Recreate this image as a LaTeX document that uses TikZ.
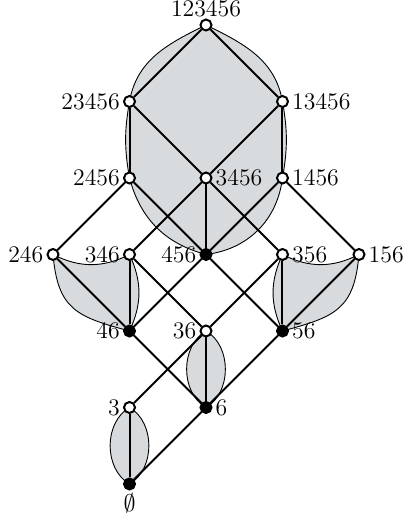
\documentclass[tikz,border=0pt]{standalone}
\usepackage{fontspec}
\usetikzlibrary{backgrounds}
\definecolor{blobgray}{RGB}{216,219,221}

\begin{document}
\begin{tikzpicture}[x=38.25pt, y=38.25pt,
    every node/.style={font=\fontsize{11.9}{14.2}\selectfont},
    opennode/.style={circle, draw, line width=1pt, fill=white, minimum size=5.5pt, inner sep=0pt},
    fullnode/.style={opennode, fill=black},
    cover/.style={line width=1pt},
    blob/.style={fill=blobgray, draw, line width=0.45pt},
    every label/.style={inner sep=1.4pt},
    label distance=0pt]
  \useasboundingbox (-0.693,-0.484) rectangle (4.614,6.327);

  % Top
  \node[opennode, label={[inner sep=0.4pt]above:123456}] (n123456) at (2,6) {};
  \node[opennode, label=left:23456] (n23456) at (1,5) {};
  \node[opennode, label=right:13456] (n13456) at (3,5) {};

  % Four elements
  \node[opennode, label=left:2456] (n2456) at (1,4) {};
  \node[opennode, label=right:3456] (n3456) at (2,4) {};
  \node[opennode, label=right:1456] (n1456) at (3,4) {};

  % Three elements
  \node[opennode, label=left:246] (n246) at (0,3) {};
  \node[opennode, label=left:346] (n346) at (1,3) {};
  \node[fullnode, label=left:456] (n456) at (2,3) {};
  \node[opennode, label=right:356] (n356) at (3,3) {};
  \node[opennode, label=right:156] (n156) at (4,3) {};

  % Two elements
  \node[fullnode, label=left:46] (n46) at (1,2) {};
  \node[opennode, label=left:36] (n36) at (2,2) {};
  \node[fullnode, label=right:56] (n56) at (3,2) {};

  % Bottom
  \node[opennode, label=left:3] (n3) at (1,1) {};
  \node[fullnode, label=right:6] (n6) at (2,1) {};
  \node[fullnode, label=below:$\emptyset$] (n0) at (1,0) {};

  \begin{scope}[on background layer]
    % Shaded blocks
    \draw[blob] (n123456.center) to[out=206,in=80] (n23456.center)
      to[out=-100,in=100] (n2456.center) to[bend right=30] (n456.center)
      to[bend right=38] (n1456.center) to[out=80,in=-80] (n13456.center)
      to[out=100,in=-26] (n123456.center) -- cycle;
    \draw[blob] (n246.center) to[bend right=27] (n346.center)
      to[bend left=25] (n46.center)
      to[out=165,in=-85,looseness=1.3] (n246.center) -- cycle;
    \draw[blob] (n356.center) to[bend right=27] (n156.center)
      to[out=-95,in=15,looseness=1.3] (n56.center)
      to[bend left=25] (n356.center) -- cycle;
    \draw[blob] (n36.center) to[bend right=60] (n6.center)
      to[bend right=60] (n36.center) -- cycle;
    \draw[blob] (n3.center) to[bend right=60] (n0.center)
      to[bend right=60] (n3.center) -- cycle;

    % Covering edges
    \draw[cover] (n123456) -- (n23456);
    \draw[cover] (n123456) -- (n13456);
    \draw[cover] (n23456) -- (n2456);
    \draw[cover] (n23456) -- (n3456);
    \draw[cover] (n13456) -- (n3456);
    \draw[cover] (n13456) -- (n1456);
    \draw[cover] (n2456) -- (n246);
    \draw[cover] (n2456) -- (n456);
    \draw[cover] (n3456) -- (n346);
    \draw[cover] (n3456) -- (n456);
    \draw[cover] (n3456) -- (n356);
    \draw[cover] (n1456) -- (n456);
    \draw[cover] (n1456) -- (n156);
    \draw[cover] (n246) -- (n46);
    \draw[cover] (n346) -- (n46);
    \draw[cover] (n346) -- (n36);
    \draw[cover] (n456) -- (n46);
    \draw[cover] (n456) -- (n56);
    \draw[cover] (n356) -- (n36);
    \draw[cover] (n356) -- (n56);
    \draw[cover] (n156) -- (n56);
    \draw[cover] (n46) -- (n6);
    \draw[cover] (n36) -- (n3);
    \draw[cover] (n36) -- (n6);
    \draw[cover] (n56) -- (n6);
    \draw[cover] (n3) -- (n0);
    \draw[cover] (n6) -- (n0);
  \end{scope}
\end{tikzpicture}
\end{document}
